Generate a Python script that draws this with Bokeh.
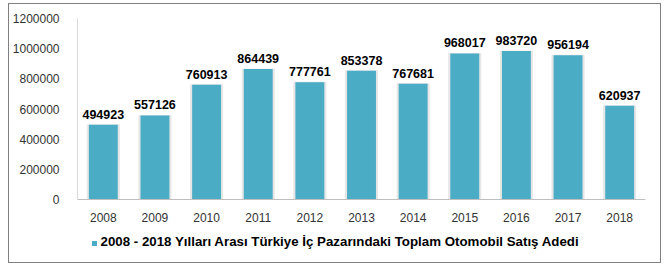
from bokeh.plotting import figure
from bokeh.models import ColumnDataSource, Title, LabelSet, NumeralTickFormatter, FixedTicker
from bokeh.core.properties import value
from bokeh.embed import file_html
from bokeh.resources import INLINE

years = ["2008", "2009", "2010", "2011", "2012", "2013", "2014", "2015", "2016", "2017", "2018"]
sales = [494923, 557126, 760913, 864439, 777761, 853378, 767681, 968017, 983720, 956194, 620937]
series_name = "2008 - 2018 Yılları Arası Türkiye İç Pazarındaki Toplam Otomobil Satış Adedi"
y_ticks = [0, 200000, 400000, 600000, 800000, 1000000, 1200000]

src = ColumnDataSource(dict(x=years, y=sales, lbl=[str(v) for v in sales]))

p = figure(x_range=years, y_range=(0, 1200000), width=669, height=271,
           output_backend="svg", toolbar_location=None,
           min_border_left=77, min_border_right=24, min_border_top=18, min_border_bottom=72)
p.outline_line_color = None
p.xgrid.grid_line_color = None
p.ygrid.grid_line_color = None
p.background_fill_color = "white"
p.border_fill_color = "white"

# shadow
p.vbar(x="x", top="y", width=0.62, source=src, color="#e6e6e6")
r = p.vbar(x="x", top="y", width=0.56, source=src, color="#4BACC6", line_color=None)

labels = LabelSet(x="x", y="y", text="lbl", source=src, text_align="center", text_baseline="bottom",
                  y_offset=6, text_font=value("Liberation Sans"), text_font_style="bold",
                  text_font_size="12.5px", text_color="#000000")
p.add_layout(labels)

p.yaxis.ticker = FixedTicker(ticks=y_ticks)
p.yaxis.formatter = NumeralTickFormatter(format="0")
p.yaxis.axis_line_color = "#d9d9d9"
p.yaxis.major_tick_line_color = None
p.yaxis.minor_tick_line_color = None
p.yaxis.major_label_text_font = "Liberation Sans"
p.yaxis.major_label_text_font_size = "12px"
p.yaxis.major_label_text_color = "#333333"
p.yaxis.major_label_standoff = 12

p.xaxis.axis_line_color = "#bfbfbf"
p.xaxis.major_tick_line_color = None
p.xaxis.major_label_text_font = "Liberation Sans"
p.xaxis.major_label_text_font_size = "12px"
p.xaxis.major_label_text_color = "#333333"
p.xaxis.major_label_standoff = 7

legend_title = Title(text=series_name, align="left", offset=23,
                     text_font="Liberation Sans", text_font_style="bold",
                     text_font_size="13.3px", text_color="#000000", standoff=15)
p.add_layout(legend_title, "below")

p.stylesheets = [
    ":host::before { content: ''; position: absolute; left: 92px; top: 241px; width: 5px; height: 5px; "
    "background: #4BACC6; z-index: 3; pointer-events: none; }",
    ":host::after { content: ''; position: absolute; left: 8px; top: 3px; "
    "width: 651px; height: 258px; border: 1.5px solid #808080; z-index: 3; pointer-events: none; }",
]

open("out.html", "w").write(file_html(p, INLINE))
